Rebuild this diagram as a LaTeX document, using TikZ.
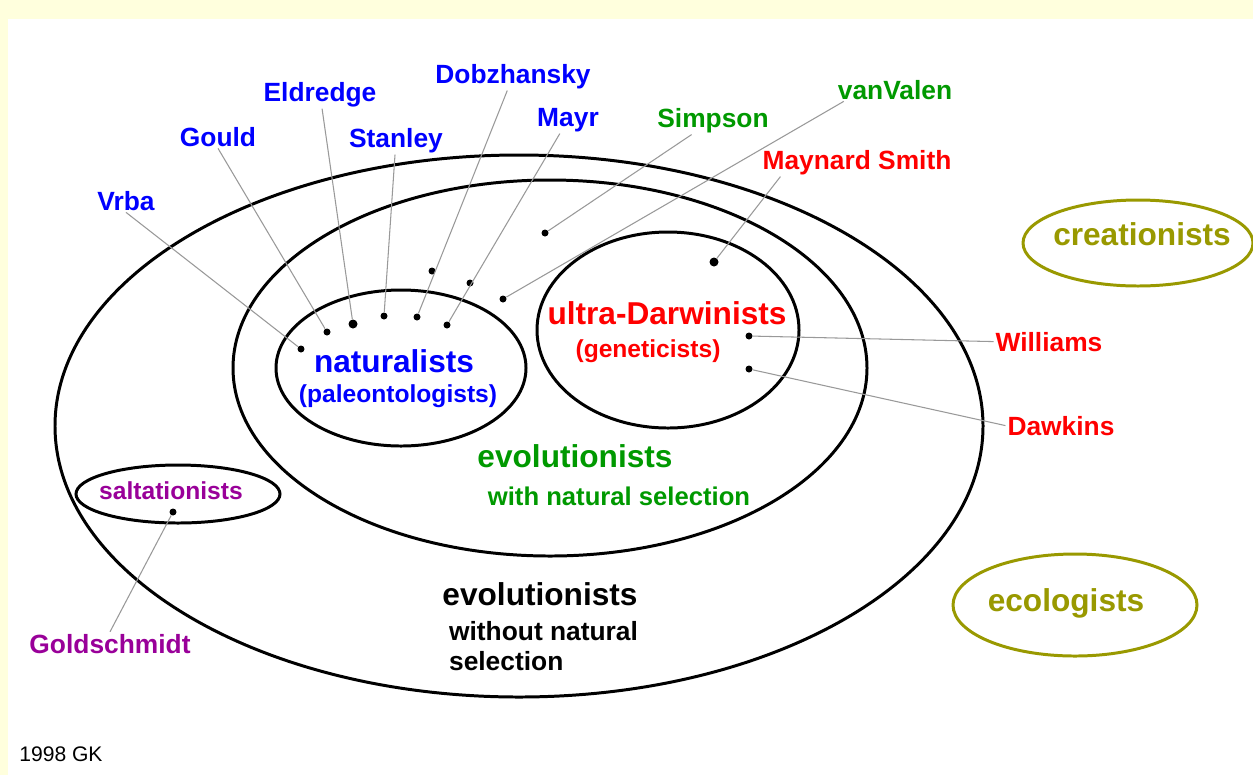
\documentclass[tikz,border=0pt]{standalone}
\usepackage{fontspec}
\setmainfont{Liberation Sans}
\usepackage{xcolor}
\usetikzlibrary{positioning}
\definecolor{NatBlue}{HTML}{0000FF}
\definecolor{SelGreen}{HTML}{009900}
\definecolor{UltraRed}{HTML}{FF0000}
\definecolor{SaltPurple}{HTML}{990099}
\definecolor{OutOlive}{HTML}{999900}
\definecolor{leadGray}{HTML}{999999}
\definecolor{pageYellow}{HTML}{FFFFDD}

\begin{document}
\begin{tikzpicture}[x=0.02cm, y=-0.02cm,
  lbl/.style={anchor=base, inner sep=1pt, font=\fontsize{15}{18}\selectfont\bfseries},
  big/.style={anchor=base, inner sep=1pt, font=\fontsize{18}{21}\selectfont\bfseries},
  sub/.style={anchor=base, inner sep=1pt, font=\fontsize{14}{17}\selectfont\bfseries},
  dot/.style={circle, fill=black, inner sep=0pt, minimum size=1.4mm},
  bigdot/.style={dot, minimum size=1.8mm},
  ring/.style={line width=1.7pt},
  lead/.style={draw=leadGray, line width=0.6pt}]
  \useasboundingbox (0,0) rectangle (1253,775);
  \fill[pageYellow] (0,0) rectangle (1253,775);
  \fill[white] (8,19) rectangle (1253,775);

  % the nested groups
  \draw[ring] (519,426) ellipse [x radius=464, y radius=271];
  \draw[ring] (550,368) ellipse [x radius=317, y radius=188];
  \draw[ring] (401,368) ellipse [x radius=125, y radius=78];
  \draw[ring] (668,330) ellipse [x radius=131, y radius=98];
  \draw[ring] (178,494) ellipse [x radius=102, y radius=29];
  \draw[ring, OutOlive] (1138,243) ellipse [x radius=115, y radius=43];
  \draw[ring, OutOlive] (1075,605) ellipse [x radius=122, y radius=51];

  % group names
  \node[big, NatBlue] (nat) at (394,372) {naturalists};
  \node[sub, NatBlue] (pal) at (398,402) {(paleontologists)};
  \node[big, UltraRed] (ultra) at (667,324) {ultra-Darwinists};
  \node[sub, UltraRed] (gen) at (648,357) {(geneticists)};
  \node[big, SelGreen] (evo) at (575,467) {evolutionists};
  \node[sub, SelGreen, font=\fontsize{14.6}{17}\selectfont\bfseries] (withsel) at (619,505) {with natural selection};
  \node[big] (evono) at (540,605) {evolutionists};
  \node[lbl, anchor=base west] (without) at (447,640) {without natural};
  \node[lbl, anchor=base west] (selection) at (447,670) {selection};
  \node[sub, SaltPurple] (salt) at (171,499) {saltationists};
  \node[big, OutOlive] (creat) at (1142,245) {creationists};
  \node[big, OutOlive] (ecol) at (1066,611) {ecologists};
  \node[anchor=base west, inner sep=0pt, font=\fontsize{12}{14}\selectfont] (sign) at (19,761) {1998 GK};

  % people
  \node[lbl, NatBlue] (vrba) at (126,210) {Vrba};
  \node[lbl, NatBlue] (gould) at (218,146) {Gould};
  \node[lbl, NatBlue] (eldredge) at (320,101) {Eldredge};
  \node[lbl, NatBlue] (stanley) at (396,147) {Stanley};
  \node[lbl, NatBlue] (dobz) at (513,83) {Dobzhansky};
  \node[lbl, NatBlue] (mayr) at (568,126) {Mayr};
  \node[lbl, SelGreen] (simpson) at (713,127) {Simpson};
  \node[lbl, SelGreen] (vanvalen) at (895,99) {vanValen};
  \node[lbl, UltraRed] (msmith) at (857,169) {Maynard Smith};
  \node[lbl, UltraRed] (williams) at (1049,351) {Williams};
  \node[lbl, UltraRed] (dawkins) at (1061,435) {Dawkins};
  \node[lbl, SaltPurple] (gold) at (110,653) {Goldschmidt};

  % where they stand
  \node[dot] (dVrba) at (301,349) {};
  \node[dot] (dGould) at (327,332) {};
  \node[bigdot] (dEldredge) at (353,324) {};
  \node[dot] (dStanley) at (384,316) {};
  \node[dot] (dDobz) at (417,317) {};
  \node[dot] (dDobzOut) at (432,271) {};
  \node[dot] (dMayr) at (447,325) {};
  \node[dot] (dMayrOut) at (470,283) {};
  \node[dot] (dVanValen) at (503,299) {};
  \node[dot] (dSimpson) at (545,233) {};
  \node[bigdot] (dMSmith) at (714,262) {};
  \node[dot] (dWilliams) at (749,336) {};
  \node[dot] (dDawkins) at (749,369) {};
  \node[dot] (dGold) at (173,512) {};

  \draw[lead] (vrba.south) -- (dVrba);
  \draw[lead] (gould.south) -- (dGould);
  \draw[lead] (eldredge) -- (dEldredge);
  \draw[lead] (stanley) -- (dStanley);
  \draw[lead] (dobz) -- (dDobz);
  \draw[lead] (mayr) -- (dMayr);
  \draw[lead] (simpson) -- (dSimpson);
  \draw[lead] ([xshift=0.16cm]vanvalen.south west) -- (dVanValen);
  \draw[lead] ([xshift=0.4cm]msmith.south west) -- (dMSmith);
  \draw[lead] (dWilliams) -- (williams.west);
  \draw[lead] (dDawkins) -- (dawkins.west);
  \draw[lead] (gold.north) -- (dGold);
\end{tikzpicture}
\end{document}
